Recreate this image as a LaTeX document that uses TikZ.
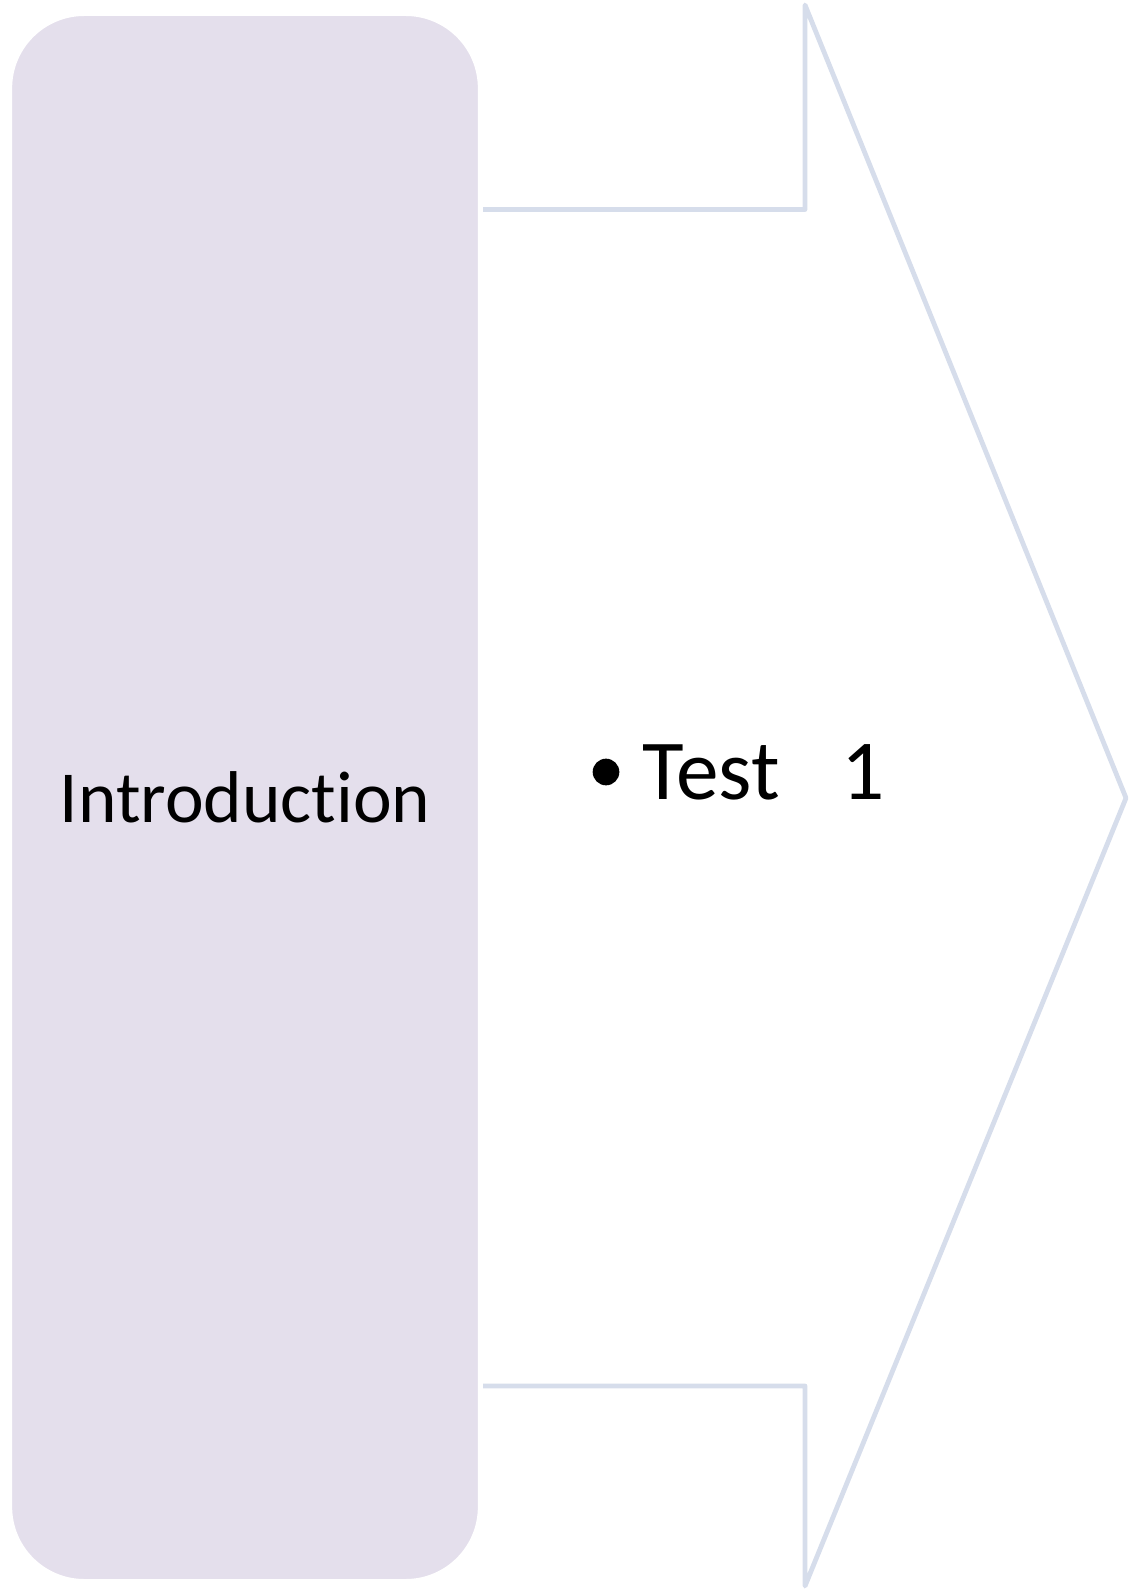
\documentclass[tikz,border=0pt]{standalone}
\usepackage{fontspec}
\setmainfont{Carlito}[Ligatures=NoCommon]
\definecolor{boxfill}{HTML}{E4DFEC}
\definecolor{arrowline}{HTML}{D6DDEB}

\begin{document}
\begin{tikzpicture}[x=0.75pt, y=-0.75pt]
  % 画布大小 (1128 x 1590 px)
  \useasboundingbox (0,0) rectangle (1128,1590);

  % 定义箭头各点
  \coordinate (S1) at (470,209.5);
  \coordinate (S2) at (805,209.5);
  \coordinate (H1) at (805,5);
  \coordinate (T)  at (1126,798);
  \coordinate (H2) at (805,1586);
  \coordinate (S3) at (805,1386);
  \coordinate (S4) at (470,1386);

  % 绘制箭头(浅蓝灰色边框)
  \draw[arrowline, fill=white, line width=3.6pt, line join=round]
    (S1) -- (S2) -- (H1) -- (T) -- (H2) -- (S3) -- (S4);

  % 左侧圆角矩形
  \node[draw=white, fill=boxfill, line width=3.75pt, rounded corners=56pt,
        minimum width=353pt, minimum height=1176pt, inner sep=0pt,
        font=\fontsize{55}{66}\selectfont] (intro) at (245,797.5) {Introduction};

  % 项目符号与文字
  \node[circle, fill=black, inner sep=0pt, minimum size=20pt] (bullet) at (606,772) {};
  \node[anchor=base west, inner sep=0pt, font=\fontsize{64}{76}\selectfont]
    (test) at (642,799) {Test\hspace{0.73em}1};
\end{tikzpicture}
\end{document}
